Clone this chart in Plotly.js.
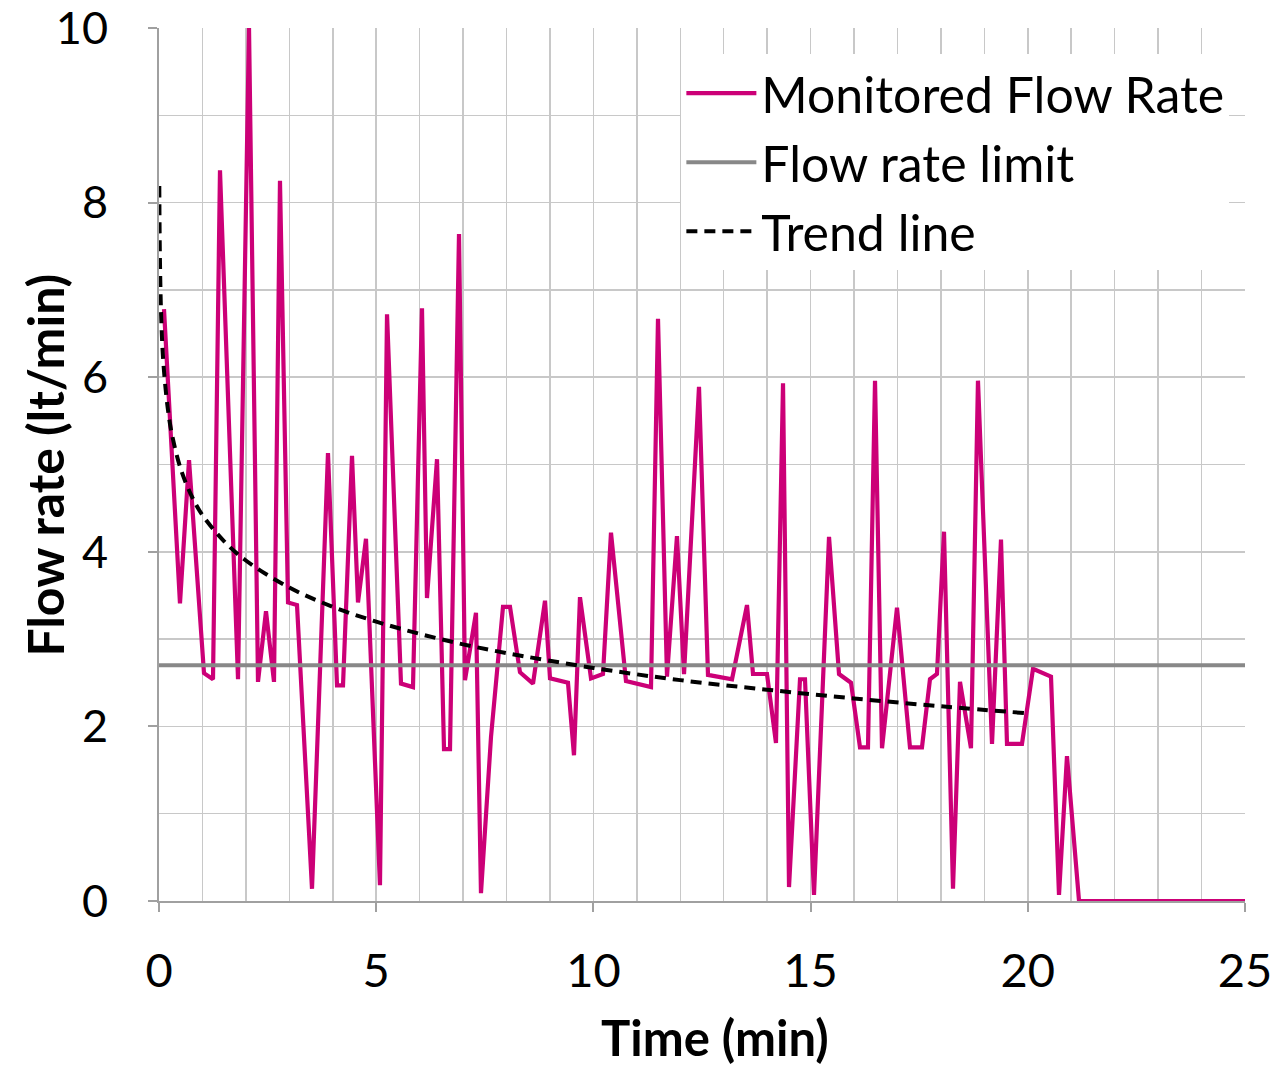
<!DOCTYPE html>
<html>
<head>
<meta charset="utf-8">
<script src="https://cdn.plot.ly/plotly-3.0.1.min.js"></script>
<style>html,body{margin:0;padding:0;background:#fff;}#chart{width:1281px;height:1068px;}</style>
</head>
<body>
<div id="chart"></div>
<script>
// Monitored flow rate (time in min, flow in lt/min)
const timeMin = [0.115,0.483,0.691,1.036,1.243,1.404,1.819,2.072,2.279,2.463,2.647,2.785,2.970,3.177,3.522,3.890,4.098,4.236,4.443,4.581,4.765,5.087,5.249,5.571,5.847,6.054,6.169,6.400,6.561,6.699,6.906,7.044,7.297,7.412,7.643,7.919,8.080,8.310,8.610,8.886,9.001,9.415,9.553,9.691,9.945,10.221,10.405,10.750,11.326,11.487,11.694,11.924,12.086,12.431,12.638,13.191,13.536,13.674,13.996,14.203,14.365,14.503,14.756,14.871,15.078,15.424,15.654,15.930,16.137,16.321,16.483,16.644,16.989,17.288,17.564,17.748,17.909,18.071,18.278,18.439,18.692,18.853,19.176,19.383,19.521,19.866,20.120,20.534,20.718,20.902,21.179,25];
const flowRate = [6.78,3.41,5.05,2.61,2.54,8.37,2.54,10.0,2.51,3.32,2.51,8.25,3.42,3.39,0.14,5.13,2.47,2.47,5.10,3.42,4.15,0.18,6.72,2.49,2.45,6.79,3.47,5.06,1.74,1.74,7.64,2.53,3.30,0.09,1.88,3.37,3.37,2.62,2.49,3.44,2.55,2.50,1.67,3.48,2.55,2.60,4.22,2.52,2.45,6.67,2.57,4.18,2.60,5.89,2.59,2.54,3.39,2.60,2.60,1.81,5.93,0.16,2.54,2.54,0.07,4.17,2.60,2.50,1.76,1.76,5.96,1.75,3.36,1.76,1.76,2.54,2.60,4.23,0.14,2.51,1.75,5.96,1.80,4.14,1.80,1.80,2.66,2.57,0.07,1.66,0.00,0.00];

// Flow rate limit
const limitX = [0, 25];
const limitY = [2.7, 2.7];

// Trend line points
const trendX = [0.007,0.02,0.05,0.1,0.2,0.3,0.5,0.75,1,1.5,2,3,4,5,6,7,8,10,12,14,16,18,20];
const trendY = [8.19,7.40,6.70,6.17,5.65,5.34,4.95,4.64,4.42,4.12,3.90,3.59,3.37,3.20,3.06,2.94,2.84,2.67,2.53,2.42,2.32,2.23,2.15];

const seriesNames = ["Monitored Flow Rate", "Flow rate limit", "Trend line"];
const xTitle = "Time (min)";
const yTitle = "Flow rate (lt/min)";

const FONT = "Lato, 'Open Sans', sans-serif";
const gridC = "#C8C8C8";
const axisC = "#A0A0A0";

const data = [
  {x: timeMin, y: flowRate, mode: "lines", name: seriesNames[0], legendgroup: "a",
   line: {color: "#CC0077", width: 4.2}},
  {x: limitX, y: limitY, mode: "lines", name: seriesNames[1], legendgroup: "b",
   line: {color: "#888888", width: 4}},
  {x: trendX, y: trendY, mode: "lines", name: seriesNames[2], legendgroup: "c",
   line: {color: "#000000", width: 4, dash: "11px,7px", shape: "spline"}}
];

const layout = {
  width: 1281, height: 1068,
  margin: {l: 159, r: 36, t: 28, b: 167},
  paper_bgcolor: "#fff", plot_bgcolor: "#fff",
  font: {family: FONT, size: 47, color: "#000"},
  showlegend: true,
  legend: {x: 0.481, xanchor: "left", y: 0.97, yanchor: "top", bgcolor: "#ffffff",
           font: {family: FONT, size: 50, color: "#000"}, borderwidth: 0, itemwidth: 70,
           traceorder: "grouped", tracegroupgap: 1},
  xaxis: {
    range: [0, 25], dtick: 5, tick0: 0,
    showgrid: true, gridcolor: gridC, gridwidth: 1.5,
    minor: {dtick: 1, showgrid: true, gridcolor: gridC, gridwidth: 1.5},
    showline: true, linecolor: axisC, linewidth: 2,
    ticks: "outside", ticklen: 9, tickcolor: axisC, tickwidth: 2,
    ticklabelstandoff: 19, ticklabeloverflow: "allow",
    zeroline: false,
    tickfont: {family: FONT, size: 47, color: "#000"}
  },
  yaxis: {
    range: [0, 10], dtick: 2, tick0: 0,
    showgrid: true, gridcolor: gridC, gridwidth: 1.5,
    minor: {dtick: 1, showgrid: true, gridcolor: gridC, gridwidth: 1.5},
    showline: true, linecolor: axisC, linewidth: 2,
    ticks: "outside", ticklen: 9, tickcolor: axisC, tickwidth: 2,
    ticklabelstandoff: 31, ticklabeloverflow: "allow",
    zeroline: false,
    tickfont: {family: FONT, size: 45, color: "#000"}
  },
  annotations: [
    {text: "<b>" + yTitle + "</b>", xref: "paper", yref: "paper", x: -0.105, y: 0.5,
     xanchor: "center", yanchor: "middle", textangle: -90, showarrow: false,
     font: {family: FONT, size: 50, color: "#000"}},
    {text: "<b>" + xTitle + "</b>", xref: "paper", yref: "paper", x: 0.512, y: -0.156,
     xanchor: "center", yanchor: "middle", showarrow: false,
     font: {family: FONT, size: 49, color: "#000"}}
  ]
};

Plotly.newPlot("chart", data, layout, {displayModeBar: false, staticPlot: true});
</script>
</body>
</html>
